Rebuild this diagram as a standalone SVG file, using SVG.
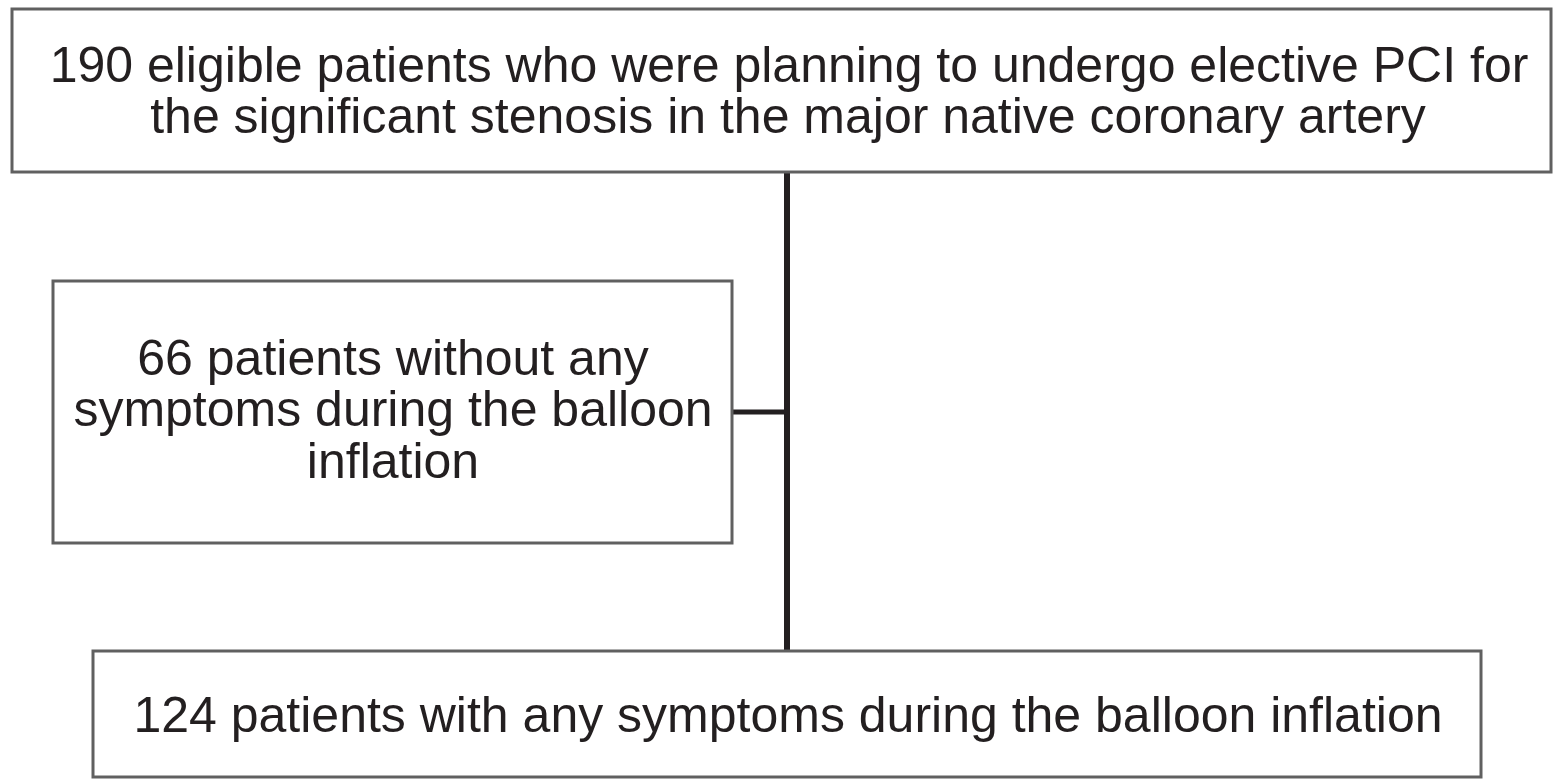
<svg xmlns="http://www.w3.org/2000/svg" width="1561" height="780" viewBox="0 0 1561 780">
<style>
.box{fill:#fff;stroke:#606060;stroke-width:3}
.t{font-family:"Liberation Sans",Arial,sans-serif;font-size:50px;fill:#231f20;text-anchor:middle}
.c{stroke:#231f20;fill:none}
</style>
<rect width="1561" height="780" fill="#fff"/>
<g id="connectors">
<line class="c" x1="787" y1="173" x2="787" y2="651" stroke-width="6"/>
<line class="c" x1="732" y1="412" x2="787" y2="412" stroke-width="5"/>
</g>
<g id="node-top">
<rect class="box" x="12" y="9" width="1539" height="163"/>
<text class="t" x="789" y="82">190 eligible patients who were planning to undergo elective PCI for</text>
<text class="t" x="788" y="133">the significant stenosis in the major native coronary artery</text>
</g>
<g id="node-left">
<rect class="box" x="53" y="281" width="679" height="262"/>
<text class="t" x="393" y="375">66 patients without any</text>
<text class="t" x="393" y="426">symptoms during the balloon</text>
<text class="t" x="393" y="478">inflation</text>
</g>
<g id="node-bottom">
<rect class="box" x="93" y="651" width="1388" height="126"/>
<text class="t" x="788" y="732">124 patients with any symptoms during the balloon inflation</text>
</g>
</svg>
